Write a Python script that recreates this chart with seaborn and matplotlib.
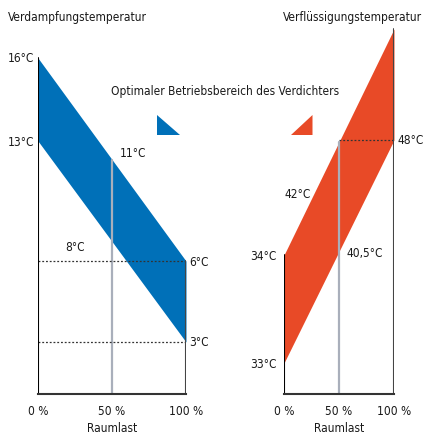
import numpy as np
import pandas as pd
import matplotlib
matplotlib.use('Agg')
import matplotlib.pyplot as plt
import seaborn as sns

# Raumlast (room load) in %
load = [0, 100]
load_ticks = [0, 50, 100]
load_labels = ['0 %', '50 %', '100 %']

# the diagram is schematic, so temperatures sit on "levels", not on a linear scale
# left panel: Verdampfungstemperatur
evap_upper = [336, 133]      # 16°C -> 6°C
evap_lower = [253, 52]       # 13°C -> 3°C
evap_labels = ['16°C', '13°C', '11°C', '8°C', '6°C', '3°C']

# right panel: Verflüssigungstemperatur
cond_upper = [139, 365]      # 34°C -> top
cond_lower = [31, 254]       # 33°C -> 48°C
cond_labels = ['34°C', '33°C', '42°C', '40,5°C', '48°C']

BLUE = '#0070b8'
RED = '#e84a27'
GREY = '#a9afbb'
TXT = '#1a1a1a'

sns.set_theme(style='white')
plt.rcParams['font.family'] = ['DejaVu Sans']
plt.rcParams['font.stretch'] = 'condensed'
FS = 8.6

W, H = 424, 434
fig = plt.figure(figsize=(W / 100, H / 100), dpi=100)


def make_axes(x0, x1, y_bottom, y_top):
    return fig.add_axes([x0 / W, (H - y_bottom) / H, (x1 - x0) / W, (y_bottom - y_top) / H])


def style_axes(ax):
    ax.set_xlim(0, 100)
    ax.set_ylim(0, 374)
    for s in ['top', 'left', 'right']:
        ax.spines[s].set_visible(False)
    ax.spines['bottom'].set_color('#333333')
    ax.spines['bottom'].set_linewidth(1.5)
    ax.set_yticks([])
    ax.set_xticks(load_ticks)
    ax.set_xticklabels(load_labels, fontsize=FS, color=TXT)
    ax.tick_params(axis='x', length=0, pad=8)
    ax.set_xlabel('Raumlast', fontsize=FS, color=TXT, labelpad=3)
    ax.set_facecolor('none')


def vline(ax, x, y0, y1, color, lw=1.5):
    df = pd.DataFrame({'x': [x, x], 'y': [y0, y1]})
    sns.lineplot(data=df, x='x', y='y', ax=ax, color=color, lw=lw, sort=False, estimator=None)


# ---------------- left panel ----------------
axl = make_axes(38, 186, 394, 20)
style_axes(axl)
axl.fill_between(load, evap_lower, evap_upper, color=BLUE, lw=0)
mid_up = np.interp(50, load, evap_upper)
mid_lo = np.interp(50, load, evap_lower)
vline(axl, 50, 0, mid_up, GREY, lw=1.6)
for lvl in [evap_upper[1], evap_lower[1]]:
    axl.plot([0, 100], [lvl, lvl], ls=(0, (1.5, 1.5)), color='#333333', lw=0.9)
vline(axl, 0, 0, evap_upper[0], 'black')
vline(axl, 100, 0, evap_upper[1], '#444444')
axl.set_ylabel('')

kw = dict(fontsize=FS, color=TXT, va='center', clip_on=False)
axl.text(-2.5, evap_upper[0] - 1, evap_labels[0], ha='right', **kw)
axl.text(-2.5, evap_lower[0] - 1, evap_labels[1], ha='right', **kw)
axl.text(55, mid_up + 6, evap_labels[2], ha='left', **kw)
axl.text(25, mid_lo - 6, evap_labels[3], ha='center', **kw)
axl.text(102, evap_upper[1] - 1, evap_labels[4], ha='left', **kw)
axl.text(102, evap_lower[1] - 1, evap_labels[5], ha='left', **kw)

# ---------------- right panel ----------------
axr = make_axes(284, 394, 394, 20)
style_axes(axr)
axr.fill_between(load, cond_lower, cond_upper, color=RED, lw=0)
mid_up_r = np.interp(50, load, cond_upper)
vline(axr, 50, 0, mid_up_r, GREY, lw=1.6)
axr.plot([50, 100], [cond_lower[1], cond_lower[1]], ls=(0, (1.5, 1.5)), color='#333333', lw=0.9)
vline(axr, 0, 0, cond_upper[0], 'black')
vline(axr, 100, 0, cond_upper[1], '#444444')
axr.set_ylabel('')

axr.text(-7, cond_upper[0] - 2, cond_labels[0], ha='right', **kw)
axr.text(-7, cond_lower[0] - 1, cond_labels[1], ha='right', **kw)
axr.text(24, 200, cond_labels[2], ha='right', **kw)
axr.text(57, 141, cond_labels[3], ha='left', **kw)
axr.text(103, cond_lower[1] - 1, cond_labels[4], ha='left', **kw)

# ---------------- titles and legend glyphs (pixel overlay) ----------------
ov = fig.add_axes([0, 0, 1, 1])
ov.set_xlim(0, W)
ov.set_ylim(H, 0)
ov.axis('off')
ov.patch.set_alpha(0)
ov.text(8, 18, 'Verdampfungstemperatur', ha='left', va='center', fontsize=FS, color=TXT)
ov.text(422, 18, 'Verflüssigungstemperatur', ha='right', va='center', fontsize=FS, color=TXT)
ov.text(225.5, 91, 'Optimaler Betriebsbereich des Verdichters', ha='center', va='center',
        fontsize=FS, color=TXT)
ov.add_patch(plt.Polygon([[157, 115], [157, 135], [179.5, 135]], color=BLUE, lw=0))
ov.add_patch(plt.Polygon([[291, 135], [312.5, 115], [312.5, 135]], color=RED, lw=0))

fig.savefig('out.png', dpi=100)
